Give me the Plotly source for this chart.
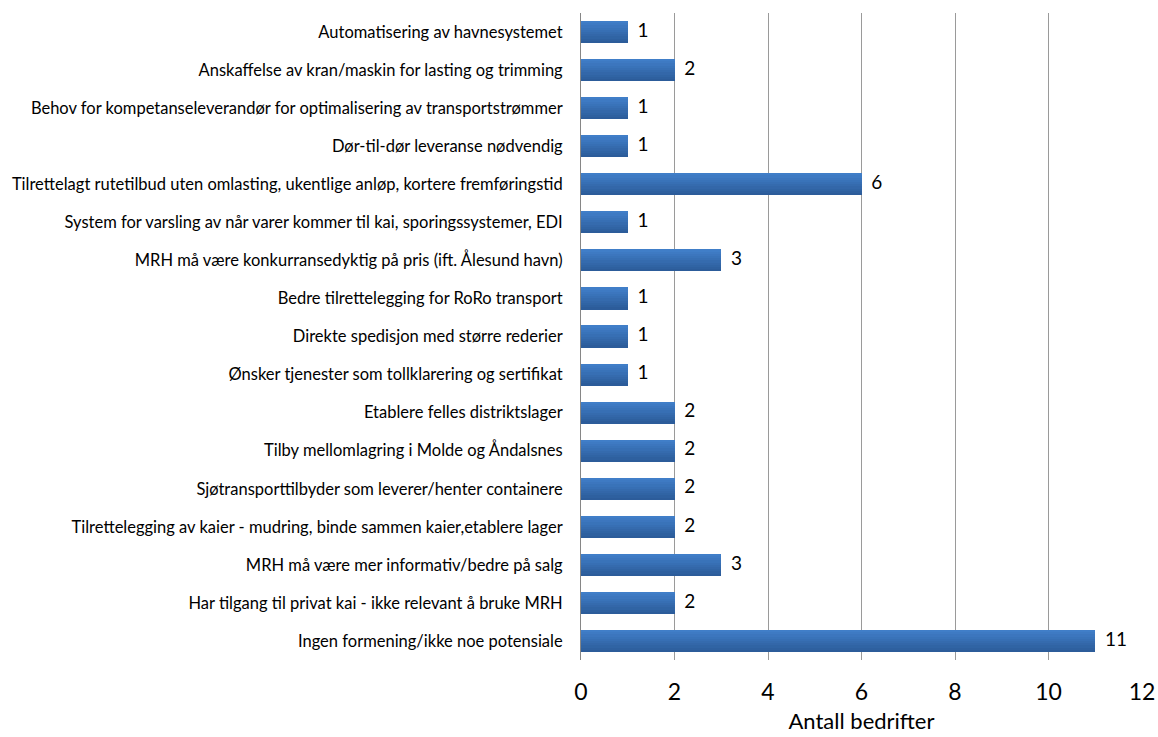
import plotly.graph_objects as go

# Survey answers: what companies want from the port (count of companies)
categories = [
    "Automatisering av havnesystemet",
    "Anskaffelse av kran/maskin for lasting og trimming",
    "Behov for kompetanseleverandør for optimalisering av transportstrømmer",
    "Dør-til-dør leveranse nødvendig",
    "Tilrettelagt rutetilbud uten omlasting, ukentlige anløp, kortere fremføringstid",
    "System for varsling av når varer kommer til kai, sporingssystemer, EDI",
    "MRH må være konkurransedyktig på pris (ift. Ålesund havn)",
    "Bedre tilrettelegging for RoRo transport",
    "Direkte spedisjon med større rederier",
    "Ønsker tjenester som tollklarering og sertifikat",
    "Etablere felles distriktslager",
    "Tilby mellomlagring i Molde og Åndalsnes",
    "Sjøtransporttilbyder som leverer/henter containere",
    "Tilrettelegging av kaier - mudring, binde sammen kaier,etablere lager",
    "MRH må være mer informativ/bedre på salg",
    "Har tilgang til privat kai - ikke relevant å bruke MRH",
    "Ingen formening/ikke noe potensiale",
]
counts = [1, 2, 1, 1, 6, 1, 3, 1, 1, 1, 2, 2, 2, 2, 3, 2, 11]
x_ticks = [0, 2, 4, 6, 8, 10, 12]

FONT = "Lato, Open Sans, Liberation Sans, sans-serif"

fig = go.Figure()

# Bars drawn as thin horizontal strips to give a light-to-dark vertical gradient
bar_width = 0.58
n_strips = 10
top_rgb = (64, 126, 200)
bot_rgb = (44, 92, 154)
strip = bar_width / n_strips
for i in range(n_strips):
    t = i / (n_strips - 1)
    r = round(top_rgb[0] + (bot_rgb[0] - top_rgb[0]) * t)
    g = round(top_rgb[1] + (bot_rgb[1] - top_rgb[1]) * t)
    b = round(top_rgb[2] + (bot_rgb[2] - top_rgb[2]) * t)
    fig.add_trace(go.Bar(
        x=counts, y=categories, orientation="h",
        width=strip * 1.02, offset=-bar_width / 2 + i * strip,
        marker=dict(color=f"rgb({r},{g},{b})", line=dict(width=0)),
        hoverinfo="skip", showlegend=False,
    ))

# Value labels at the end of each bar
fig.add_trace(go.Scatter(
    x=counts, y=categories, mode="text",
    text=["  " + str(v) for v in counts],
    textposition="middle right",
    textfont=dict(family=FONT, size=19, color="#000000"),
    hoverinfo="skip", showlegend=False, cliponaxis=False,
))

fig.update_layout(
    width=1158, height=737,
    barmode="overlay", bargap=0,
    plot_bgcolor="white", paper_bgcolor="white",
    margin=dict(l=581, r=16, t=13, b=77),
    font=dict(family=FONT, color="#000000"),
    xaxis=dict(
        range=[0, 12], tickvals=x_ticks, automargin=False,
        showgrid=True, gridcolor="#9a9a9a", gridwidth=1,
        zeroline=False, showline=False,
        tickfont=dict(size=23), ticks="", ticklabelstandoff=16,
        title=dict(text="Antall bedrifter", font=dict(size=22), standoff=9),
    ),
    yaxis=dict(
        categoryorder="array", categoryarray=categories,
        range=[len(categories) - 0.5, -0.5],
        automargin=False,
        showgrid=False, zeroline=False,
        showline=True, linecolor="#868686", linewidth=1,
        ticks="", tickfont=dict(size=16.5), ticklabelstandoff=14,
    ),
)

fig.write_html("out.html")
